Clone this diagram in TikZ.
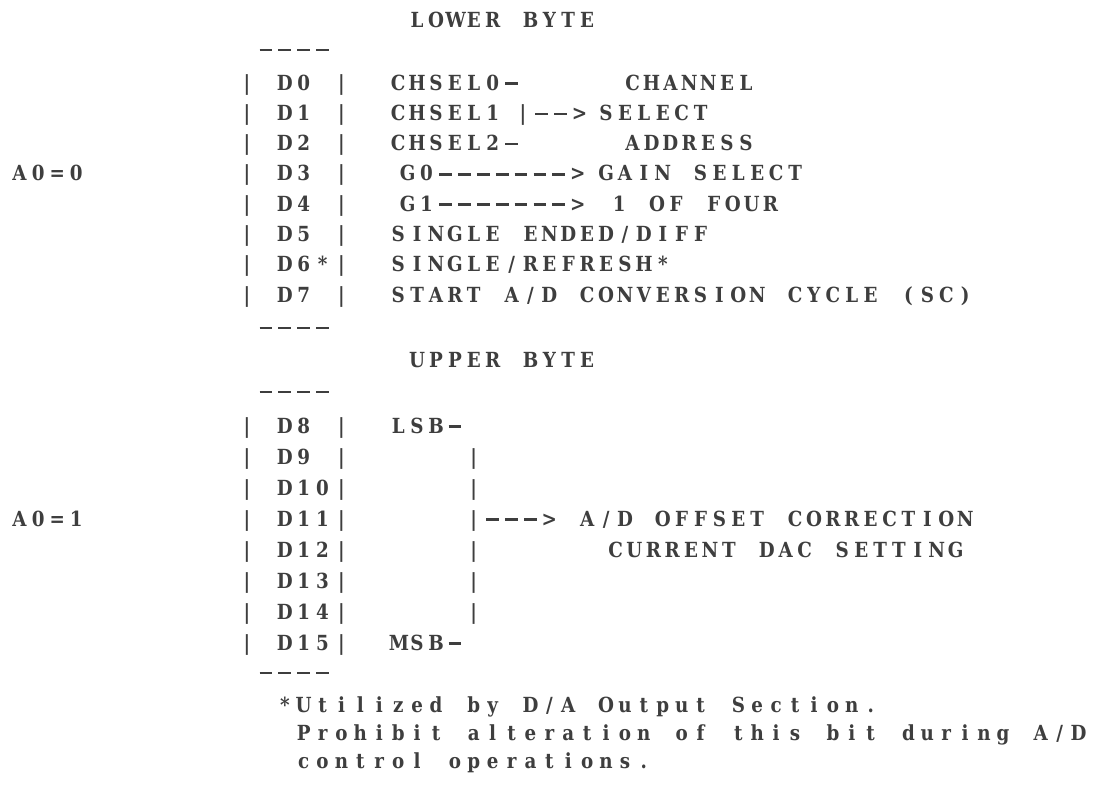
\documentclass[tikz,border=0pt]{standalone}
\usepackage{fontspec}
\usepackage{graphicx}
\newfontfamily\twfont{DejaVu Serif}
\definecolor{ink}{RGB}{62,62,62}
\ExplSyntaxOn
\dim_new:N \l_tw_pitch_dim
\dim_set:Nn \l_tw_pitch_dim {9.45pt}
\NewDocumentCommand \tw { m }
  {
    \str_map_inline:nn { #1 }
      {
        \str_if_eq:nnTF { ##1 } { ~ }
          { \hbox_to_wd:nn { \l_tw_pitch_dim } { } }
          {
            \str_if_eq:nnTF { ##1 } { - }
              { \hbox_to_wd:nn { \l_tw_pitch_dim } { \hfil \rule[2.7pt]{6.4pt}{1.2pt} \hfil } }
              { \hbox_to_wd:nn { \l_tw_pitch_dim } { \hfil \scalebox{0.88}[1]{##1} \hfil } }
          }
      }
  }
\ExplSyntaxOff
\newcommand\cx[1]{237.55+18.9*#1}
\tikzset{
  tw/.style={anchor=base west, inner sep=0pt, outer sep=0pt, text=ink,
    font=\twfont\bfseries\fontsize{10.4}{10.4}\selectfont}
}
\begin{document}
\begin{tikzpicture}[x=0.5pt,y=-0.5pt]
\fill[white] (0,0) rectangle (1103,784);
\useasboundingbox (0,0) rectangle (1103,784);
% headings and rules
\node[tw] (lower) at (\cx{9},27) {\tw{LOWER BYTE}};
\node[tw] (rule1) at (\cx{1},56.5) {\tw{----}};
% lower byte rows
\node[tw] (d0) at (\cx{0},90) {\tw{| D0 |}};
\node[tw] (d1) at (\cx{0},120.3) {\tw{| D1 |}};
\node[tw] (d2) at (\cx{0},150.6) {\tw{| D2 |}};
\node[tw] (d3) at (\cx{0},180.9) {\tw{| D3 |}};
\node[tw] (d4) at (\cx{0},211.2) {\tw{| D4 |}};
\node[tw] (d5) at (\cx{0},241.5) {\tw{| D5 |}};
\node[tw] (d6) at (\cx{0},271.8) {\tw{| D6*|}};
\node[tw] (d7) at (\cx{0},302.1) {\tw{| D7 |}};
\node[tw] (chsel0) at (\cx{8},90) {\tw{CHSEL0-}};
\node[tw] (channel) at (\cx{20.4},90) {\tw{CHANNEL}};
\node[tw] (chsel1) at (\cx{8},120.3) {\tw{CHSEL1}};
\node[tw] (arr1) at (\cx{14.6},120.3) {\tw{|-->}};
\node[tw] (select) at (\cx{19},120.3) {\tw{SELECT}};
\node[tw] (chsel2) at (\cx{8},150.6) {\tw{CHSEL2-}};
\node[tw] (address) at (\cx{20.4},150.6) {\tw{ADDRESS}};
\node[tw] (g0) at (\cx{8.5},180.9) {\tw{G0------->}};
\node[tw] (gain) at (\cx{19},180.9) {\tw{GAIN SELECT}};
\node[tw] (g1) at (\cx{8.5},211.2) {\tw{G1------->}};
\node[tw] (four) at (\cx{19.7},211.2) {\tw{1 OF FOUR}};
\node[tw] (sed) at (\cx{8},241.5) {\tw{SINGLE ENDED/DIFF}};
\node[tw] (ref) at (\cx{8},271.8) {\tw{SINGLE/REFRESH*}};
\node[tw] (start) at (\cx{8},302.1) {\tw{START A/D CONVERSION CYCLE (SC)}};
\node[tw] (rule2) at (\cx{1},334.5) {\tw{----}};
\node[tw] (a00) at (10,180.9) {\tw{A0=0}};
% upper byte
\node[tw] (upper) at (\cx{9},367) {\tw{UPPER BYTE}};
\node[tw] (rule3) at (\cx{1},398.5) {\tw{----}};
\node[tw] (d8) at (\cx{0},433) {\tw{| D8 |}};
\node[tw] (d9) at (\cx{0},464) {\tw{| D9 |}};
\node[tw] (d10) at (\cx{0},495) {\tw{| D10|}};
\node[tw] (d11) at (\cx{0},526) {\tw{| D11|}};
\node[tw] (d12) at (\cx{0},557) {\tw{| D12|}};
\node[tw] (d13) at (\cx{0},588) {\tw{| D13|}};
\node[tw] (d14) at (\cx{0},619) {\tw{| D14|}};
\node[tw] (d15) at (\cx{0},650) {\tw{| D15|}};
\node[tw] (lsb) at (\cx{8},433) {\tw{LSB-}};
\node[tw] (bar9) at (\cx{12},464) {\tw{|}};
\node[tw] (bar10) at (\cx{12},495) {\tw{|}};
\node[tw] (bar11) at (\cx{12},526) {\tw{|--->}};
\node[tw] (offset) at (\cx{18},526) {\tw{A/D OFFSET CORRECTION}};
\node[tw] (bar12) at (\cx{12},557) {\tw{|}};
\node[tw] (dac) at (\cx{19.5},557) {\tw{CURRENT DAC SETTING}};
\node[tw] (bar13) at (\cx{12},588) {\tw{|}};
\node[tw] (bar14) at (\cx{12},619) {\tw{|}};
\node[tw] (msb) at (\cx{8},650) {\tw{MSB-}};
\node[tw] (rule4) at (\cx{1},679.5) {\tw{----}};
\node[tw] (a01) at (10,526) {\tw{A0=1}};
% footnote
\node[tw] (note1) at (\cx{2},712) {\tw{*Utilized by D/A Output Section.}};
\node[tw] (note2) at (\cx{3},740) {\tw{Prohibit alteration of this bit during A/D}};
\node[tw] (note3) at (\cx{3},768) {\tw{control operations.}};
\end{tikzpicture}
\end{document}
